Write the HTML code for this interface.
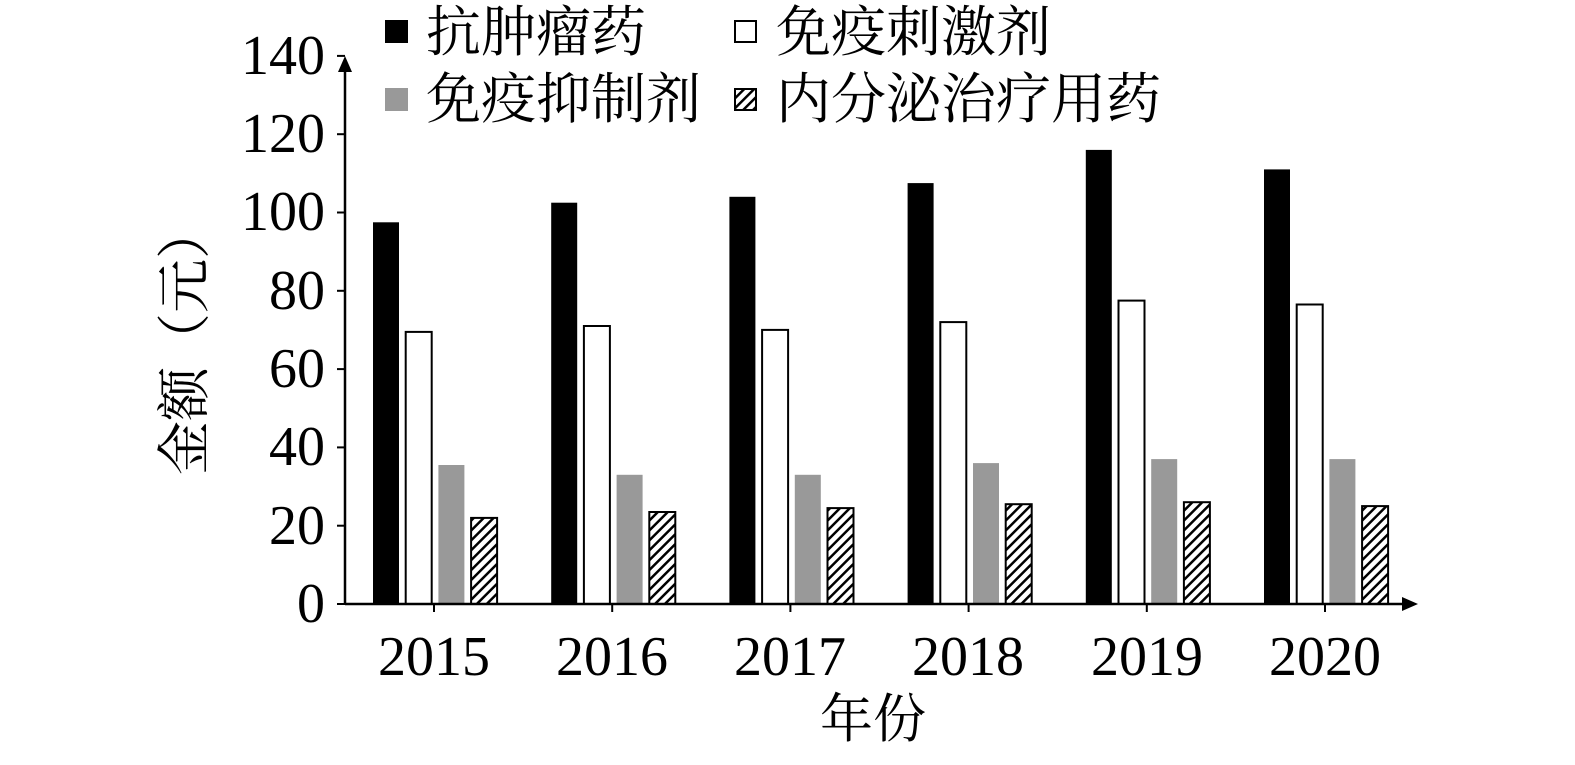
<!DOCTYPE html>
<html><head><meta charset="utf-8"><style>
body{margin:0;background:#fff}
text{font-family:"Liberation Serif","Noto Serif CJK SC",serif;fill:#000}
</style></head><body>
<svg width="1575" height="760" xmlns="http://www.w3.org/2000/svg">
<defs>
<pattern id="h" patternUnits="userSpaceOnUse" width="7" height="7" patternTransform="rotate(45)">
<rect width="7" height="7" fill="#fff"/><rect width="2.5" height="7" fill="#000"/>
</pattern>
</defs>
<g fill="#000">
<rect x="373" y="222.3" width="26" height="381.7"/>
<rect x="551.2" y="202.7" width="26" height="401.3"/>
<rect x="729.4" y="196.8" width="26" height="407.2"/>
<rect x="907.6" y="183.1" width="26" height="420.9"/>
<rect x="1085.8" y="149.9" width="26" height="454.1"/>
<rect x="1264" y="169.4" width="26" height="434.6"/>
</g>
<g fill="#fff" stroke="#000" stroke-width="2">
<rect x="405.7" y="331.9" width="26" height="272.1"/>
<rect x="583.9" y="326" width="26" height="278"/>
<rect x="762.1" y="329.9" width="26" height="274.1"/>
<rect x="940.3" y="322.1" width="26" height="281.9"/>
<rect x="1118.5" y="300.6" width="26" height="303.4"/>
<rect x="1296.7" y="304.5" width="26" height="299.5"/>
</g>
<g fill="#999">
<rect x="438.4" y="465" width="26" height="139"/>
<rect x="616.6" y="474.8" width="26" height="129.2"/>
<rect x="794.8" y="474.8" width="26" height="129.2"/>
<rect x="973" y="463.1" width="26" height="140.9"/>
<rect x="1151.2" y="459.1" width="26" height="144.9"/>
<rect x="1329.4" y="459.1" width="26" height="144.9"/>
</g>
<g fill="url(#h)" stroke="#000" stroke-width="2">
<rect x="471.1" y="517.9" width="26" height="86.1"/>
<rect x="649.3" y="512" width="26" height="92"/>
<rect x="827.5" y="508.1" width="26" height="95.9"/>
<rect x="1005.7" y="504.2" width="26" height="99.8"/>
<rect x="1183.9" y="502.2" width="26" height="101.8"/>
<rect x="1362.1" y="506.1" width="26" height="97.9"/>
</g>
<g stroke="#000" stroke-width="2">
<line x1="434" y1="604" x2="434" y2="612"/><line x1="612.2" y1="604" x2="612.2" y2="612"/>
<line x1="790.4" y1="604" x2="790.4" y2="612"/><line x1="968.6" y1="604" x2="968.6" y2="612"/>
<line x1="1146.8" y1="604" x2="1146.8" y2="612"/><line x1="1325" y1="604" x2="1325" y2="612"/>
</g>
<line x1="345" y1="604" x2="345" y2="68" stroke="#000" stroke-width="2.5"/>
<polygon points="345,56 338,72 352,72" fill="#000"/>
<line x1="345" y1="604" x2="1405" y2="604" stroke="#000" stroke-width="2.5"/>
<polygon points="1418,604 1402,597 1402,611" fill="#000"/>
<g stroke="#000" stroke-width="2">
<line x1="337" y1="604" x2="345" y2="604"/><line x1="337" y1="525.7" x2="345" y2="525.7"/>
<line x1="337" y1="447.4" x2="345" y2="447.4"/><line x1="337" y1="369.1" x2="345" y2="369.1"/>
<line x1="337" y1="290.8" x2="345" y2="290.8"/><line x1="337" y1="212.5" x2="345" y2="212.5"/>
<line x1="337" y1="134.2" x2="345" y2="134.2"/><line x1="337" y1="55.9" x2="345" y2="55.9"/>
</g>
<g font-size="56" text-anchor="end">
<text x="325" y="622">0</text><text x="325" y="544">20</text><text x="325" y="465">40</text>
<text x="325" y="387">60</text><text x="325" y="309">80</text><text x="325" y="230">100</text>
<text x="325" y="152">120</text><text x="325" y="74">140</text>
</g>
<g font-size="56" text-anchor="middle">
<text x="434" y="675">2015</text><text x="612" y="675">2016</text><text x="790" y="675">2017</text>
<text x="968" y="675">2018</text><text x="1147" y="675">2019</text><text x="1325" y="675">2020</text>
<text x="873" y="737" font-size="53">年份</text>
</g>
<text font-size="54" text-anchor="middle" dominant-baseline="central" transform="translate(185,340) rotate(-90)">金额（元）</text>
<rect x="385" y="20" width="23" height="23" fill="#000"/>
<text x="426" y="51" font-size="55">抗肿瘤药</text>
<rect x="735" y="21" width="21" height="21" fill="#fff" stroke="#000" stroke-width="2"/>
<text x="776" y="51" font-size="55">免疫刺激剂</text>
<rect x="385" y="88" width="23" height="23" fill="#999"/>
<text x="426" y="118" font-size="55">免疫抑制剂</text>
<rect x="735" y="89" width="21" height="21" fill="url(#h)" stroke="#000" stroke-width="2"/>
<text x="776" y="118" font-size="55">内分泌治疗用药</text>
</svg>
</body></html>
